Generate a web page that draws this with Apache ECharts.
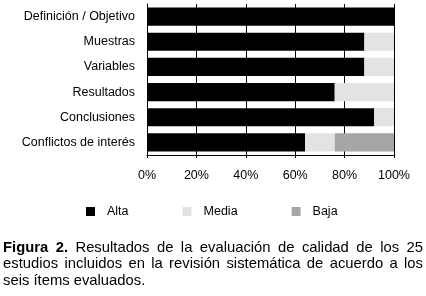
<!DOCTYPE html>
<html lang="es">
<head>
  <meta charset="UTF-8">
  <title>Figura 2</title>
  <script src="https://cdn.jsdelivr.net/npm/echarts@6/dist/echarts.min.js"></script>
  <style>
    html, body { margin: 0; padding: 0; background: #fff; }
  </style>
</head>
<body>
  <div id="main" style="width: 426px;height:296px;"></div>
  <script>
    // datos (porcentaje de los 25 estudios)
    var categories = ['Definición / Objetivo', 'Muestras', 'Variables', 'Resultados', 'Conclusiones', 'Conflictos de interés'];
    var alta = [100, 88, 88, 76, 92, 64];
    var media = [0, 12, 12, 24, 8, 12];
    var baja = [0, 0, 0, 0, 0, 24];
    var xTicks = [0, 20, 40, 60, 80, 100];
    var legendNames = ['Alta', 'Media', 'Baja'];

    // pie de figura, palabra por palabra (1 = negrita)
    var captionLines = [
      [['Figura', 1], ['2.', 1], ['Resultados', 0], ['de', 0], ['la', 0], ['evaluación', 0], ['de', 0], ['calidad', 0], ['de', 0], ['los', 0], ['25', 0]],
      [['estudios', 0], ['incluidos', 0], ['en', 0], ['la', 0], ['revisión', 0], ['sistemática', 0], ['de', 0], ['acuerdo', 0], ['a', 0], ['los', 0]],
      [['seis', 0], ['ítems', 0], ['evaluados.', 0]]
    ];

    var FONT = 'Liberation Sans';
    var capSize = 14.8;
    var ctx = document.createElement('canvas').getContext('2d');
    function fontOf(bold) {
      return (bold ? 'bold ' : '') + capSize + 'px "' + FONT + '"';
    }
    function measure(txt, bold) {
      ctx.font = fontOf(bold);
      return ctx.measureText(txt).width;
    }

    // texto justificado: se reparte el espacio entre palabras
    var capLeft = 3, capRight = 423;
    var baselines = [252.7, 269.2, 285.7];
    var captionGraphic = [];
    captionLines.forEach(function (words, li) {
      var widths = words.map(function (w) { return measure(w[0], w[1]); });
      var total = widths.reduce(function (a, b) { return a + b; }, 0);
      var last = li === captionLines.length - 1;
      var gap = last ? measure(' ', 0) : (capRight - capLeft - total) / (words.length - 1);
      var x = capLeft;
      words.forEach(function (w, i) {
        captionGraphic.push({
          type: 'text',
          x: x,
          y: baselines[li] - 5,
          style: {
            text: w[0],
            font: fontOf(w[1]),
            fill: '#000',
            align: 'left',
            verticalAlign: 'middle'
          }
        });
        x += widths[i] + gap;
      });
    });

    var myChart = echarts.init(document.getElementById('main'));

    var option = {
      animation: false,
      textStyle: { fontFamily: FONT },
      grid: { left: 147, right: 32, top: 4, height: 151 },
      legend: {
        data: legendNames,
        left: 81,
        top: 200,
        itemWidth: 9,
        itemHeight: 9,
        itemGap: 54,
        icon: 'rect',
        selectedMode: false,
        textStyle: { fontSize: 12.5, color: '#000', padding: [0, 0, 0, 7] }
      },
      xAxis: {
        type: 'value',
        min: 0,
        max: 100,
        interval: 20,
        axisLine: { show: true, lineStyle: { color: '#000', width: 1 } },
        axisTick: { show: true, length: 3, lineStyle: { color: '#000' } },
        splitLine: { show: true, lineStyle: { color: '#000', width: 1 } },
        axisLabel: {
          fontSize: 12.5,
          color: '#000',
          margin: 14,
          formatter: function (v) { return xTicks.indexOf(v) >= 0 ? v + '%' : ''; }
        }
      },
      yAxis: {
        type: 'category',
        data: categories,
        inverse: true,
        axisLine: { show: true, lineStyle: { color: '#000', width: 1 } },
        axisTick: { show: false },
        axisLabel: { fontSize: 12.5, color: '#000', margin: 12 }
      },
      series: [
        { name: 'Alta', type: 'bar', stack: 'total', data: alta, barCategoryGap: '28%', itemStyle: { color: '#000' } },
        { name: 'Media', type: 'bar', stack: 'total', data: media, itemStyle: { color: '#e3e3e3' } },
        { name: 'Baja', type: 'bar', stack: 'total', data: baja, itemStyle: { color: '#a6a6a6' } }
      ],
      graphic: captionGraphic
    };

    myChart.setOption(option);
  </script>
</body>
</html>
